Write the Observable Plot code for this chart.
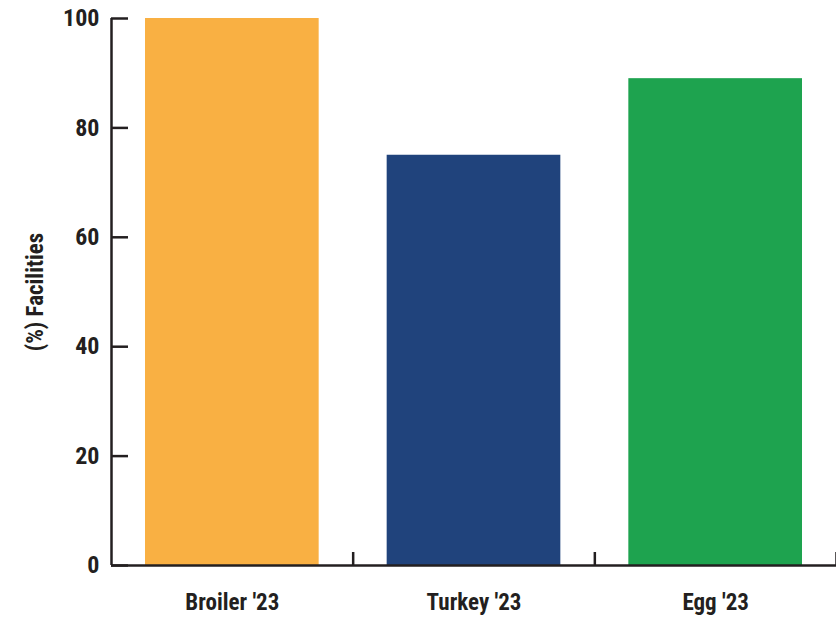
<!DOCTYPE html>
<html>
<head>
<meta charset="utf-8">
<script src="https://cdn.jsdelivr.net/npm/d3@7"></script>
<script src="https://cdn.jsdelivr.net/npm/@observablehq/plot@0.6"></script>
<style>
  html, body { margin: 0; padding: 0; background: #fff; }
  #chart svg, #chart svg text { font-family: Roboto, "DejaVu Sans", sans-serif; font-weight: bold; font-stretch: 75%; }
</style>
</head>
<body>
<div id="chart"></div>
<script>
const categories = ["Broiler '23", "Turkey '23", "Egg '23"];
const values = [100, 75, 89];
const colors = ["#F9B043", "#20437C", "#1EA34F"];
const yTicks = [0, 20, 40, 60, 80, 100];
const yLabel = "(%) Facilities";

const data = categories.map((c, i) => ({category: c, value: values[i], index: i, color: colors[i]}));
const boundaries = categories.map((c, i) => i + 1);
const ink = "#231f20";

const chart = Plot.plot({
  width: 836,
  height: 619,
  marginLeft: 111,
  marginRight: 0,
  marginTop: 18,
  marginBottom: 54,
  style: {background: "#fff"},
  x: {type: "linear", domain: [0, categories.length], axis: null},
  y: {domain: [0, 100]},
  marks: [
    Plot.rectY(data, {x1: d => d.index, x2: d => d.index + 1, y1: 0, y2: "value", fill: "color", insetLeft: 34, insetRight: 34}),
    Plot.ruleY(yTicks, {y: d => d, x1: 0, x2: 0, insetRight: -17, stroke: ink, strokeWidth: 2.5}),
    Plot.ruleX(boundaries, {x: d => d, y1: 0, y2: 0, insetBottom: 13, stroke: ink, strokeWidth: 2.5}),
    Plot.ruleY([0], {stroke: ink, strokeWidth: 2.5}),
    Plot.ruleX([0], {y1: 0, y2: 100, stroke: ink, strokeWidth: 2.5}),
    Plot.axisY({ticks: yTicks, tickSize: 0, tickPadding: 12, fill: ink, fontSize: 24, label: null, tickFormat: d => d}),
    Plot.text(data, {x: d => d.index + 0.5, y: 0, text: "category", dy: 44, fontSize: 23, fill: ink, lineAnchor: "bottom"}),
    Plot.text([yLabel], {frameAnchor: "left", textAnchor: "middle", rotate: -90, dx: -76, fontSize: 23, fill: ink})
  ]
});
document.getElementById("chart").appendChild(chart);
</script>
</body>
</html>
